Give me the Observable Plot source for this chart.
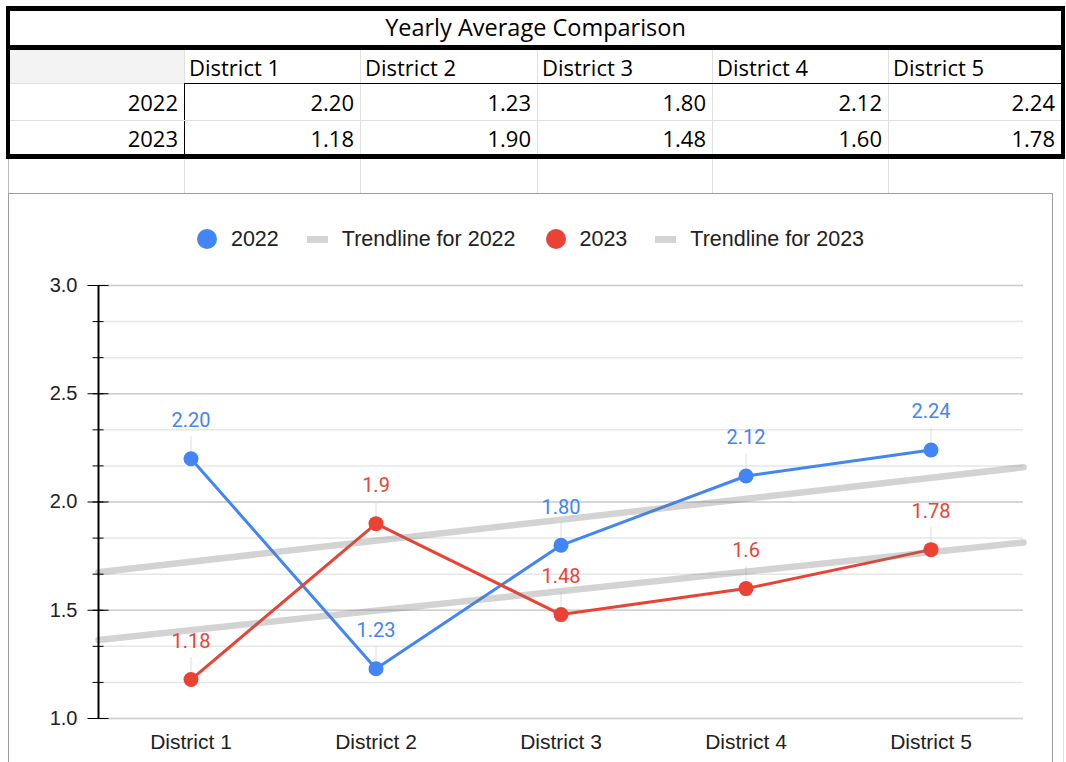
<!DOCTYPE html>
<html><head><meta charset="utf-8">
<script src="https://cdn.jsdelivr.net/npm/d3@7"></script>
<script src="https://cdn.jsdelivr.net/npm/@observablehq/plot@0.6"></script>
<style>
html,body{margin:0;padding:0;background:#fff;}
body{width:1066px;height:762px;overflow:hidden;position:relative;font-family:"Open Sans","Noto Sans",sans-serif;}
.abs{position:absolute;box-sizing:border-box;}
.txt{font-size:22px;color:#000;line-height:1;display:flex;align-items:center;white-space:nowrap;}
#legend{position:absolute;left:8px;top:227px;width:1045px;height:24px;display:flex;align-items:center;justify-content:center;font-family:"Liberation Sans",Arial,sans-serif;font-size:21.5px;color:#222;}
#legend .dot{width:20px;height:20px;border-radius:50%;margin-right:14px;}
#legend .bar{width:21px;height:7px;background:#d4d4d4;margin-right:14px;}
#legend .lab{margin-right:28px;}
#legend .lab.last{margin-right:0;}
#plot{position:absolute;left:0;top:260px;}
</style></head><body>
<div id="sheet"></div>
<div id="legend"></div>
<div id="plot"></div>
<script>
// ---- data ----
const tableTitle = "Yearly Average Comparison";
const districts = ["District 1", "District 2", "District 3", "District 4", "District 5"];
const years = ["2022", "2023"];
const values2022 = [2.20, 1.23, 1.80, 2.12, 2.24];
const values2023 = [1.18, 1.90, 1.48, 1.60, 1.78];
const yTicks = [1.0, 1.5, 2.0, 2.5, 3.0];
const minorPerMajor = 3;
const seriesColors = ["#4285F4", "#EA4335"];
const trendLabels = ["Trendline for 2022", "Trendline for 2023"];

// ---- spreadsheet table ----
const sheet = document.getElementById("sheet");
function box(l, t, w, h, style, text) {
  const d = document.createElement("div");
  d.className = "abs" + (text !== undefined ? " txt" : "");
  Object.assign(d.style, {left: l + "px", top: t + "px", width: w + "px", height: h + "px"}, style || {});
  if (text !== undefined) d.textContent = text;
  sheet.appendChild(d);
  return d;
}
const colEdges = [10, 184, 360, 537, 712, 888, 1061];
const gridGray = "#e0e0e0";
box(10, 50, 174, 33, {background: "#f3f3f3"});
for (let k = 1; k < colEdges.length - 1; k++) box(colEdges[k], 50, 1, 33, {background: gridGray});
for (let k = 2; k < colEdges.length - 1; k++) box(colEdges[k], 84, 1, 70, {background: gridGray});
box(184, 83, 1, 71, {background: "#000"});
box(10, 83, 174, 1, {background: gridGray});
box(184, 83, 877, 1, {background: "#000"});
box(10, 120, 1051, 1, {background: gridGray});
for (let k = 1; k < colEdges.length - 1; k++) box(colEdges[k], 159, 1, 34, {background: gridGray});
box(8, 159, 1, 34, {background: "#bbb"});
box(1063, 159, 1, 603, {background: gridGray});
box(8, 193, 1045, 600, {border: "1px solid #9e9e9e", background: "#fff"});
box(6, 6, 1059, 153, {border: "solid #000", borderWidth: "5px 4px 5px 4px"});
box(6, 45, 1059, 5, {background: "#000"});
box(10, 11, 1051, 34, {justifyContent: "center", fontSize: "23.5px"}, tableTitle);
districts.forEach((d, i) => box(colEdges[i + 1], 50, colEdges[i + 2] - colEdges[i + 1], 33, {paddingLeft: "5px"}, d));
const rowTops = [84, 121], rowH = [36, 33];
[values2022, values2023].forEach((vals, r) => {
  box(10, rowTops[r], 174, rowH[r], {justifyContent: "flex-end", paddingRight: "6px"}, years[r]);
  vals.forEach((v, i) => box(colEdges[i + 1], rowTops[r], colEdges[i + 2] - colEdges[i + 1], rowH[r],
    {justifyContent: "flex-end", paddingRight: "6px"}, d3.format(".2f")(v)));
});

// ---- legend ----
const legend = document.getElementById("legend");
years.forEach((y, k) => {
  legend.insertAdjacentHTML("beforeend",
    `<span class="dot" style="background:${seriesColors[k]}"></span><span class="lab">${y}</span>` +
    `<span class="bar"></span><span class="lab${k === years.length - 1 ? " last" : ""}" style="${k < years.length - 1 ? "margin-right:30px" : ""}">${trendLabels[k]}</span>`);
});

// ---- chart ----
const series = [
  {year: years[0], values: values2022, fmt: d3.format(".2f")},
  {year: years[1], values: values2023, fmt: v => String(v)}
];
const points = series.flatMap(s => s.values.map((v, i) => ({year: s.year, x: i + 1, y: v, label: s.fmt(v)})));
const xDomain = [0.5, districts.length + 0.5];
function fit(values) {
  const xs = values.map((_, i) => i + 1);
  const mx = d3.mean(xs), my = d3.mean(values);
  const b = d3.sum(xs, (x, i) => (x - mx) * (values[i] - my)) / d3.sum(xs, x => (x - mx) ** 2);
  return {a: my - b * mx, b};
}
const trends = series.flatMap(s => { const {a, b} = fit(s.values); return xDomain.map(x => ({year: s.year, x, y: a + b * x})); });
const yMin = yTicks[0], yMax = yTicks[yTicks.length - 1];
const majorStep = yTicks[1] - yTicks[0];
const nMinor = Math.round((yMax - yMin) / majorStep * minorPerMajor);
const minorTicks = d3.range(nMinor + 1).map(k => yMin + k * majorStep / minorPerMajor);
const xTicks = districts.map((_, i) => i + 1);

const chart = Plot.plot({
  width: 1066, height: 498,
  marginLeft: 98, marginRight: 43, marginTop: 25, marginBottom: 40,
  style: {background: "transparent", overflow: "visible", fontFamily: "'Liberation Sans', Arial, sans-serif", fontSize: "20px", color: "#222"},
  x: {domain: xDomain, label: null},
  y: {domain: [yMin, yMax], label: null},
  color: {domain: years, range: seriesColors},
  marks: [
    Plot.ruleY(minorTicks, {stroke: "#e6e6e6", strokeWidth: 1.5}),
    Plot.ruleY(yTicks, {stroke: "#cfcfcf", strokeWidth: 1.5}),
    Plot.ruleX(points, {x: "x", y1: "y", y2: "y", insetTop: -22, stroke: "#dedede", strokeWidth: 1}),
    Plot.line(points, {x: "x", y: "y", z: "year", stroke: "year", strokeWidth: 3}),
    Plot.line(trends, {x: "x", y: "y", z: "year", stroke: "#777", strokeOpacity: 0.32, strokeWidth: 6.5}),
    Plot.dot(points, {x: "x", y: "y", fill: "year", r: 7.5}),
    Plot.text(points, {x: "x", y: "y", text: "label", fill: "year", dy: -38, fontSize: 20, fontFamily: "Roboto, sans-serif"}),
    Plot.ruleX([xDomain[0]], {stroke: "#000", strokeWidth: 2}),
    Plot.axisY(minorTicks, {tickSize: 11, dx: 5.5, tickFormat: () => "", stroke: "#000", label: null}),
    Plot.axisY(yTicks, {tickSize: 21, dx: 10.5, tickPadding: 10.5, tickFormat: d3.format(".1f"), fontSize: 20, stroke: "#000", fill: "#222", label: null}),
    Plot.axisX(xTicks, {tickSize: 0, tickPadding: 16, tickFormat: i => districts[i - 1], fontSize: 21, fill: "#222", label: null})
  ]
});
document.getElementById("plot").appendChild(chart);
</script>
</body></html>
